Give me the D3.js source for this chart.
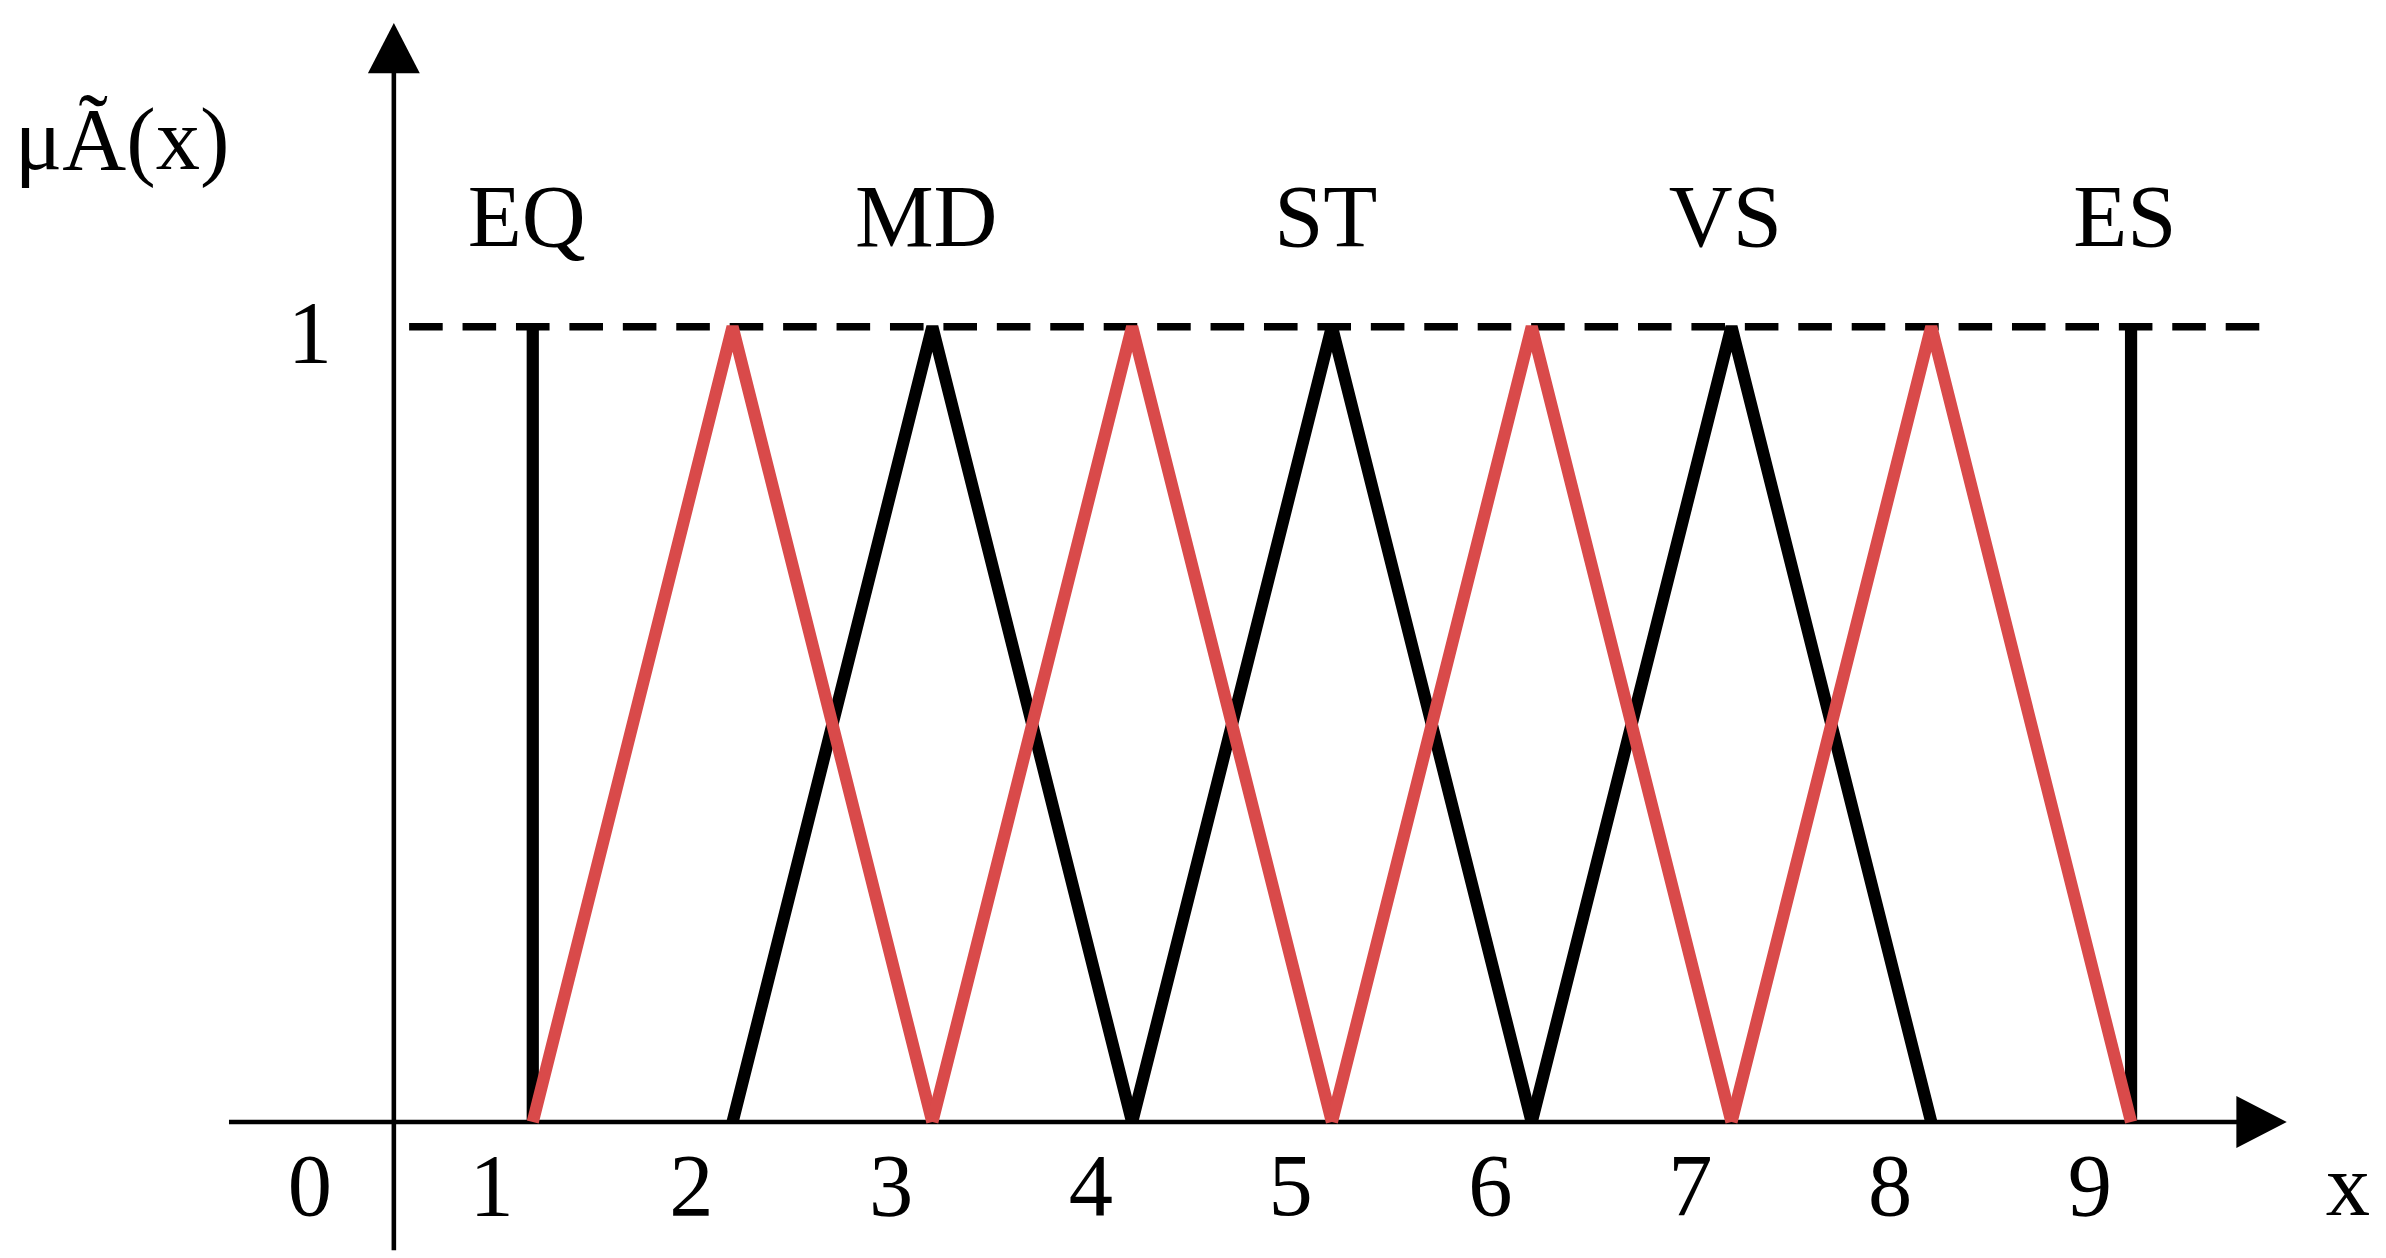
<!DOCTYPE html>
<html><head><meta charset="utf-8">
<script src="https://cdn.jsdelivr.net/npm/d3@7"></script>
<style>html,body{margin:0;background:#fff}</style></head>
<body><svg id="c" width="2386" height="1258" viewBox="0 0 1563 822"></svg>
<script>
const tickLabels = ["0","1","2","3","4","5","6","7","8","9"];
const setNames = ["EQ","MD","ST","VS","ES"];
const setCenters = [1,3,5,7,9];
const blackSets = [
  [[1,0],[1,1]],
  [[2,0],[3,1],[4,0]],
  [[4,0],[5,1],[6,0]],
  [[6,0],[7,1],[8,0]],
  [[9,1],[9,0]]
];
const redSets = [
  [[1,0],[2,1],[3,0]],
  [[3,0],[4,1],[5,0]],
  [[5,0],[6,1],[7,0]],
  [[7,0],[8,1],[9,0]]
];
const svg = d3.select("#c");
const x = d3.scaleLinear().domain([1,9]).range([349,1396]);
const y = d3.scaleLinear().domain([0,1]).range([734,213]);
const font = "Liberation Serif, DejaVu Serif, serif";
const line = d3.line().x(d=>x(d[0])).y(d=>y(d[1]));
svg.append("line").attr("x1",150).attr("x2",1470).attr("y1",y(0)).attr("y2",y(0)).attr("stroke","#000").attr("stroke-width",3);
svg.append("path").attr("d",`M1465,${y(0)-17}L1498,${y(0)}L1465,${y(0)+17}Z`).attr("fill","#000");
svg.append("line").attr("x1",258).attr("x2",258).attr("y1",45).attr("y2",818).attr("stroke","#000").attr("stroke-width",3);
svg.append("path").attr("d","M241,47L258,14L275,47Z").attr("fill","#000");
svg.append("line").attr("x1",268).attr("x2",1485).attr("y1",y(1)).attr("y2",y(1)).attr("stroke","#000").attr("stroke-width",5).attr("stroke-dasharray","22,13");
svg.selectAll(".b").data(blackSets).enter().append("path").attr("d",line).attr("fill","none").attr("stroke","#000").attr("stroke-width",8);
svg.selectAll(".r").data(redSets).enter().append("path").attr("d",line).attr("fill","none").attr("stroke","#d94a4a").attr("stroke-width",8);
svg.selectAll(".t").data(tickLabels).enter().append("text")
  .attr("x",(d,i)=> i===0 ? 203 : x(i)-27).attr("y",795).attr("text-anchor","middle")
  .attr("font-family",font).attr("font-size",58).text(d=>d);
svg.append("text").attr("x",203).attr("y",236).attr("text-anchor","middle").attr("font-family",font).attr("font-size",58).text("1");
svg.append("text").attr("x",1538).attr("y",795).attr("text-anchor","middle").attr("font-family",font).attr("font-size",58).text("x");
svg.selectAll(".n").data(setNames).enter().append("text")
  .attr("x",(d,i)=>x(setCenters[i])-4).attr("y",160).attr("text-anchor","middle")
  .attr("font-family",font).attr("font-size",58).text(d=>d);
svg.append("text").attr("x",80).attr("y",110).attr("text-anchor","middle").attr("font-family",font).attr("font-size",58).text("μÃ(x)");
</script></body></html>
